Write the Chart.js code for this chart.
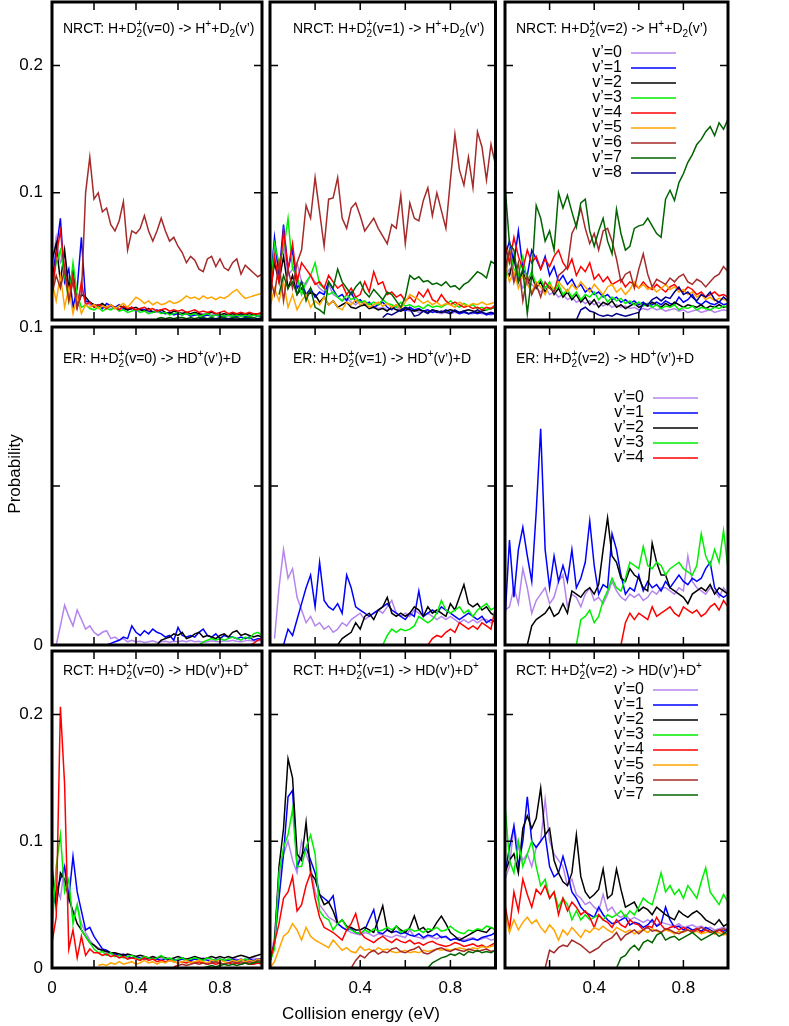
<!DOCTYPE html>
<html><head><meta charset="utf-8">
<script src="https://cdn.jsdelivr.net/npm/chart.js@4.4.1/dist/chart.umd.min.js"></script>
<style>
html,body{margin:0;padding:0;background:#fff;}
#wrap{position:relative;width:789px;height:1026px;overflow:hidden;background:#fff;}
#wrap canvas{position:absolute;left:0;top:0;}
</style></head><body><div id="wrap"></div>
<script>
const _ = null;
const UNIT = 0.001; // all series values below are in units of 0.001 (probability)
const energy = [0,0.02,0.04,0.06,0.08,0.1,0.12,0.14,0.16,0.18,0.2,0.22,0.24,0.26,0.28,0.3,0.32,0.34,0.36,0.38,0.4,0.42,0.44,0.46,0.48,0.5,0.52,0.54,0.56,0.58,0.6,0.62,0.64,0.66,0.68,0.7,0.72,0.74,0.76,0.78,0.8,0.82,0.84,0.86,0.88,0.9,0.92,0.94,0.96,0.98,1];
const seriesLabels = ["v’=0","v’=1","v’=2","v’=3","v’=4","v’=5","v’=6","v’=7","v’=8"];
const seriesColors = ["#b585ee","#0000ff","#000000","#00ee00","#ff0000","#ffa500","#a52a2a","#006400","#00008b"];

const titles = [
 "NRCT: H+D~2+(v=0) -> H^++D_2(v’)","NRCT: H+D~2+(v=1) -> H^++D_2(v’)","NRCT: H+D~2+(v=2) -> H^++D_2(v’)",
 "ER: H+D~2+(v=0) -> HD^+(v’)+D","ER: H+D~2+(v=1) -> HD^+(v’)+D","ER: H+D~2+(v=2) -> HD^+(v’)+D",
 "RCT: H+D~2+(v=0) -> HD(v’)+D^+","RCT: H+D~2+(v=1) -> HD(v’)+D^+","RCT: H+D~2+(v=2) -> HD(v’)+D^+"
];
const xTickMarks = [0.2,0.4,0.6,0.8];
const xLabelValsFirst = [0,0.4,0.8], xLabelTextFirst = ["0","0.4","0.8"];
const xLabelValsOther = [0.4,0.8], xLabelTextOther = ["0.4","0.8"];
const rowYMax = [0.25,0.1,0.25];
const rowYTickMarks = [[0.1,0.2],[0.05],[0.1,0.2]];
const rowYLabelVals = [[0.1,0.2],[0,0.1],[0,0.1,0.2]];
const rowYLabelText = [["0.1","0.2"],["0","0.1"],["0","0.1","0.2"]];
const yTitle = "Probability", xTitle = "Collision energy (eV)";

// ---- NRCT v=0 ----
const nrct0_v0 = [40,65,45,50,20,35,15,25,14,12, 11,12,10,11,9,10,9,8,9,8, 7,8,7,6,7,6,6,5,6,5, 5,6,5,4,5,4,5,4,4,5, 4,4,3,4,4,3,4,3,4,3, 4];
const nrct0_v1 = [30,55,80,30,40,10,25,65,15,14, 10,12,9,13,11,10,12,9,8,10, 7,9,8,7,6,8,6,5,6,4, 5,4,5,3,4,4,3,4,3,4, 3,3,4,3,3,4,3,3,4,3, 3];
const nrct0_v2 = [47,60,30,55,25,40,10,20,18,14, 12,11,13,10,12,9,11,10,8,9, 10,8,7,9,6,7,8,6,5,7, 6,5,6,5,6,5,4,5,6,5, 4,5,4,5,4,5,4,5,4,5, 5];
const nrct0_v3 = [25,45,55,35,15,45,20,10,12,9, 8,10,7,9,8,10,7,8,6,7, 8,6,7,5,6,7,5,6,4,5, 6,4,5,4,5,3,4,5,3,4, 4,3,4,3,4,3,4,3,4,3, 4];
const nrct0_v4 = [20,50,70,40,20,35,10,30,12,14, 10,12,11,9,12,10,8,11,9,10, 8,9,10,8,9,7,8,9,7,8, 7,8,6,7,8,6,7,6,7,5, 6,7,5,6,5,6,5,6,5,5, 6];
const nrct0_v5 = [30,15,35,10,25,5,18,5,12,10, 12,9,11,10,12,9,11,13,10,14, 18,16,13,15,12,14,12,13,15,13, 14,16,19,17,18,16,19,17,18,16, 18,17,19,22,24,20,17,18,19,20, 21];
const nrct0_v6 = [20,35,25,40,15,30,10,20,100,128, 95,100,85,88,75,70,78,93,55,70, 68,72,82,70,62,70,80,70,62,65, 58,53,45,50,47,40,38,48,50,42, 48,41,39,45,48,36,43,40,37,34, 36];
const nrct0_v7 = [_,_,_,_,_, _,_,_,_,_, _,_,_,_,_, _,_,_,_,_, _,_,_,_,_, 1,2,1,2,1,2,2,1,2,1, 2,2,1,2,1,2,2,1,2,2, 1,2,2,2,1,2];
const nrct0_v8 = [_,_,_,_,_, _,_,_,_,_, _,_,_,_,_, _,_,_,_,_, _,_,_,_,_, _,_,_,_,_, _,_,_,_,_, 1,1,0.5,1,1,0.5,1,1,1,0.5, 1,1,1,0.5,1,1];

// ---- NRCT v=1 ----
const nrct1_v0 = [30,55,40,60,35,40,45,30,28,35, 30,25,22,28,20,18,15,17,14,12, 15,12,10,11,9,10,8,9,10,7, 8,7,8,6,7,6,7,6,5,6, 5,6,5,6,5,5,6,5,5,4, 5];
const nrct1_v1 = [25,65,35,75,40,55,25,30,20,25, 18,22,20,30,24,18,20,15,22,14, 16,12,14,10,12,14,10,8,12,9, 7,10,8,9,7,8,6,7,6,8, 6,7,5,6,5,6,5,6,4,5, 5];
const nrct1_v2 = [20,45,30,50,25,35,20,25,18,22, 20,14,18,12,15,10,12,14,10,9, 11,12,9,10,8,9,7,10,8,7, 9,8,7,8,7,6,8,7,6,7, 8,7,6,7,8,7,6,7,8,9, 10];
const nrct1_v3 = [20,60,45,55,80,40,35,20,30,35, 45,28,25,20,22,18,15,20,16,18, 14,15,12,14,12,16,13,12,10,14, 11,12,10,11,9,12,10,11,10,12, 15,12,10,13,11,12,9,10,8,9, 10];
const nrct1_v4 = [15,50,30,70,40,60,30,45,40,35, 28,30,25,35,30,25,28,20,25,18, 20,30,22,38,28,30,20,22,18,20, 15,18,14,22,18,24,16,14,20,15, 12,14,12,10,11,9,10,8,10,9, 12];
const nrct1_v5 = [10,25,15,30,10,20,8,15,20,10, 15,12,18,12,15,10,8,14,12,16, 12,14,10,12,14,11,13,10,12,9, 14,20,18,16,13,15,12,14,11,13, 12,10,14,12,11,13,12,14,12,13, 14];
const nrct1_v6 = [34,20,45,15,40,25,45,55,90,80, 112,85,58,95,96,112,80,72,88,92, 82,70,75,80,72,66,60,75,72,98, 60,92,80,78,94,104,82,100,86,72, 110,146,118,106,128,104,148,136,110,138, 122];
const nrct1_v7 = [_,_,20,35,25,30,20,30,15,25, 10,8,5,30,25,40,30,25,20,26, 30,22,18,24,20,16,22,20,15,10, 18,35,32,34,30,31,28,29,27,30, 26,27,24,28,30,34,38,36,33,46, 44];
const nrct1_v8 = [_,_,_,_,_, _,_,_,_,_, _,_,_,_,_, _,_,_,_,_, _,_,_,_,_, 2,5,4,6,8, 10,9,3,4,7,5,8,6,7,6, 5,8,6,7,5,6,8,6,5,6, 5];

// ---- NRCT v=2 ----
const nrct2_v0 = [35,40,30,35,25,30,28,25,22,26, 20,22,18,20,16,18,14,16,13,15, 12,14,11,13,10,12,10,11,9,10, 8,9,8,10,8,9,7,8,9,7, 8,6,7,8,6,7,8,6,7,8, 7];
const nrct2_v1 = [50,62,45,70,40,35,55,48,40,50, 35,42,30,35,28,32,25,28,22,25, 20,22,18,20,16,18,14,16,13,15, 12,14,11,12,14,12,15,13,12,18, 14,16,20,14,12,15,13,12,14,12, 13];
const nrct2_v2 = [40,35,50,30,38,28,35,25,30,22, 28,20,25,18,22,16,20,14,18,12, 16,10,14,12,15,10,12,9,11,13, 10,12,11,14,12,10,13,11,14,12, 10,12,11,10,12,9,11,10,12,10, 11];
const nrct2_v3 = [30,55,40,35,50,30,38,28,32,25, 30,22,28,20,24,18,22,16,20,18, 22,16,20,14,18,15,17,13,15,12, 14,11,13,10,12,9,11,10,12,8, 10,9,11,8,10,9,8,10,9,11, 10];
const nrct2_v4 = [60,45,65,50,40,55,45,50,40,48, 42,50,55,45,40,48,35,42,38,45, 32,36,30,34,28,30,32,26,30,28, 25,30,26,24,28,25,22,26,28,24, 22,26,24,20,22,18,20,22,19,20, 18];
const nrct2_v5 = [45,30,38,25,35,28,22,30,26,20, 28,24,30,26,22,28,24,30,26,22, 28,24,20,26,28,22,25,20,24,30, 25,28,24,26,22,25,28,24,26,22, 24,20,22,18,20,16,18,15,17,16, 15];
const nrct2_v6 = [40,55,30,45,15,35,20,28,18,30, 25,22,35,38,42,68,75,88,72,60, 68,55,70,72,62,48,30,36,38,25, 40,52,36,26,32,30,28,33,30,34, 36,30,28,32,30,26,30,34,36,42, 38];
const nrct2_v7 = [106,60,55,30,40,5,35,90,80,62, 70,55,100,88,98,85,73,92,95,70, 58,70,80,62,52,87,68,55,58,72, 74,75,80,74,68,65,95,102,94,108, 115,124,130,138,142,148,152,145,155,150, 158];
const nrct2_v8 = [_,_,_,_,_, _,_,_,_,_, _,_,_,_,_, _, 0,8,10,7, 6,4,3,4,3,5,4,3,4,5, 6,13,12,16,18,15,18,17,22,26, 20,22,18,15,20,18,22,16,14,18, 15];

// ---- ER v=0 ----
const er0_v0 = [_,0,6,12.5,9,6,11,8,5,6, 4,3,4,4.5,2,2.5,1.5,2,1,1.5, 1,1.2,0.8,1,1.3,0.8,1,1.2,0.9,1.2, 1,1.3,1,1.5,1,1.2,0.8,1,1.3,1.1, 1,1.3,1.2,1.5,1.2,1,1.3,1.5,1.2,1.4, 1.3];
const er0_v1 = [_,_,_,_,_, _,_,_,_,_, _,_,_, 0,0.5,1,1.5,2.5,2,6, 4,3,4.5,3.5,5,4,3.5,2.5,3,1.5, 5.5,3,2.5,3,2.5,4,5,3,2.5,3.5, 2,3,2.5,2.5,2,2.5,2,2.5,1.5,2, 2];
const er0_v2 = [_,_,_,_,_, _,_,_,_,_, _,_,_,_,_, _,_,_,_,_, _,_,_,_,_, 0,1.5,2,2.5,3.5, 3,4,2,2.5,3.5,4,2.5,3,2.5,2, 3,3.5,2.5,4,4.5,3,3.5,3,2.5,3, 2.5];
const er0_v3 = [_,_,_,_,_, _,_,_,_,_, _,_,_,_,_, _,_,_,_,_, _,_,_,_,_, _,_,_,_,_, _,_,_,_,_, 0,1,1.5,2,1.5, 2,1.5,2,2.5,2,1.5,2.5,2,3.5,4, 3];
const er0_v4 = [_,_,_,_,_, _,_,_,_,_, _,_,_,_,_, _,_,_,_,_, _,_,_,_,_, _,_,_,_,_, _,_,_,_,_, _,_,_,_,_, _,_,_,_,_, _,_, 0,0.5,1.5,2];

// ---- ER v=1 ----
const er1_v0 = [_,2,18,30,21,24,15,11,7,9, 6,7,5,6,4,5,7,6,8,9, 10,8,9,10,11,10,12,14,10,9, 10,9,11,10,9,10,9,8,9,8, 9,8,7,8,7,8,7,8,8,7, 8];
const er1_v1 = [_,_,_,0,5,3,8,13,18,22, 12,26,14,12,11,13,10,22,18,12, 11,10,9,10,11,12,13,11,10,9, 8,10,9,17,9,10,11,10,12,11, 10,9,8,9,10,9,8,9,7,8, 7];
const er1_v2 = [_,_,_,_,_, _,_,_,_,_, _,_,_,_,_, 0,2,3,4,7, 5,9,10,8,11,12,15,10,9,10, 9,10,12,11,9,12,10,11,10,9, 13,11,15,19,13,12,13,11,12,10, 9];
const er1_v3 = [_,_,_,_,_, _,_,_,_,_, _,_,_,_,_, _,_,_,_,_, _,_,_,_,_, 0,3,5,4,5, 4.5,5,6,9,8,7,8,10,14,11, 10,11,12,10,11,9,11,12,13,11, 12];
const er1_v4 = [_,_,_,_,_, _,_,_,_,_, _,_,_,_,_, _,_,_,_,_, _,_,_,_,_, _,_,_,_,_, _,_,_,_,_, 0,2,3,2.5,4, 5,4,7,6,5,6,5,7,6,5, 12];

// ---- ER v=2 ----
const er2_v0 = [11,12,18,13,24,18,10,14,16,18, 13,15,20,22,12,16,15,12,16,18, 14,15,13,16,20,17,15,14,16,15, 16,14,15,17,16,18,18,17,16,18, 17,28,20,18,17,16,18,17,15,18, 16];
const er2_v1 = [8,33,15,30,37,28,20,42,68,30, 18,28,20,25,20,30,18,21,26,39, 25,16,19,18,35,30,22,16,18,17, 22,17,20,18,19,17,20,18,20,22, 20,19,21,20,21,24,26,18,16,15, 16];
const er2_v2 = [_,_,_,_,_,0,6,8,9,10, 12,9,10,13,10,17,16,15,17,18, 16,19,30,40,28,26,21,20,24,22, 21,18,17,32,26,22,22,18,17,16, 15,13,16,17,18,17,19,16,18,17, 16];
const er2_v3 = [_,_,_,_,_, _,_,_,_,_, _,_,_,_,_, _, 0,8,9,11, 7,9,14,17,21,18,17,21,26,25, 24,31,25,24,26,25,22,24,25,26, 24,23,22,25,35,28,25,30,26,36, 24];
const er2_v4 = [_,_,_,_,_, _,_,_,_,_, _,_,_,_,_, _,_,_,_,_, _,_,_,_,_, _, 0,7,10,8, 10,9,8,12,9,10,11,12,10,9, 12,11,10,11,9,10,12,13,11,14, 12];

// ---- RCT v=0 ----
const rct0_v0 = [50,65,55,80,60,40,50,35,28,22, 18,16,14,12,11,10,9,10,9,8, 8,7,8,7,8,7,7,8,7,6, 7,8,7,6,7,7,8,7,6,7, 7,6,7,8,7,6,7,7,8,7, 7];
const rct0_v1 = [45,60,70,80,55,88,60,45,30,32, 25,20,15,14,12,11,10,11,9,8, 9,8,7,8,7,7,6,7,6,7, 6,7,6,6,7,6,7,6,5,6, 7,6,6,7,6,7,6,7,6,7, 7];
const rct0_v2 = [80,48,75,70,55,45,35,30,25,20, 18,15,14,13,12,12,11,10,11,10, 9,10,9,8,9,8,9,8,7,8, 9,8,7,8,9,8,7,8,9,8, 9,8,9,8,9,10,9,8,9,10, 11];
const rct0_v3 = [30,80,105,60,70,35,50,30,25,20, 15,12,13,10,12,9,10,8,9,10, 8,7,9,8,7,8,10,7,8,6, 7,8,6,7,8,7,6,8,7,6, 7,6,7,6,5,6,7,6,5,6, 6];
const rct0_v4 = [20,40,206,145,15,30,8,25,10,15, 12,12,10,11,9,10,8,9,7,8, 7,6,8,6,7,5,6,5,6,5, 4,5,4,5,4,5,4,3,4,3, 4,3,4,3,4,3,4,3,3,4, 3];
const rct0_v5 = [_,_,_,_,_, _,_,_,_,_, _, 2,3,2,4,3,5,3,4,5, 3,4,6,4,5,3,5,4,6,5, 4,5,6,4,5,6,5,4,6,5, 6,5,4,6,5,7,5,6,5,7, 6];
const rct0_v6 = [_,_,_,_,_, _,_,_,_,_, _,_,_,_,_, _,_,_,_,_, _,_,_,_,_, _,_,_,_, 1, 2,3,2,3,4,3,4,3,4,5, 4,3,4,5,4,5,4,5,4,6, 5];
const rct0_v7 = [_,_,_,_,_, _,_,_,_,_, _,_,_,_,_, _,_,_,_,_, _,_,_,_,_, _,_,_,_,_, _,_,_,_,_, _, 0,1,2,1, 2,3,2,3,2,3,4,3,4,5, 4];

// ---- RCT v=1 ----
const rct1_v0 = [5,25,70,90,100,85,75,100,90,80, 60,50,45,40,38,35,32,30,28,27, 26,28,27,25,27,26,25,24,26,25, 24,30,25,24,23,25,24,23,25,24, 22,23,24,22,23,24,22,23,24,22, 23];
const rct1_v1 = [5,20,55,90,135,140,80,88,95,85, 75,58,55,52,57,35,32,30,31,28, 27,30,38,46,28,27,30,28,29,27, 28,26,25,27,24,26,25,27,24,25, 22,23,22,21,22,23,22,24,25,26, 28];
const rct1_v2 = [5,20,80,110,165,150,90,85,115,75, 70,58,50,52,45,35,38,33,32,30, 30,32,30,28,38,49,30,28,33,30, 28,32,41,30,32,28,30,36,41,35, 28,25,22,24,26,28,30,29,28,32, 30];
const rct1_v3 = [5,15,75,95,105,125,80,80,95,105, 90,45,40,38,30,35,38,32,30,28, 27,30,28,31,29,30,32,30,33,28, 30,31,29,30,28,31,30,32,29,30, 33,30,28,27,30,29,31,30,33,32, 30];
const rct1_v4 = [5,20,35,55,60,72,45,50,65,75, 55,40,32,30,28,25,22,30,35,43, 28,24,22,20,23,25,22,20,23,21, 20,22,19,20,18,20,21,19,18,17, 18,20,19,17,18,19,17,18,16,18, 20];
const rct1_v5 = [0,5,15,25,28,35,30,22,32,25, 22,20,18,16,22,18,14,16,13,12, 17,14,15,13,16,14,15,13,12,13, 14,12,13,12,14,13,14,15,14,15, 14,15,16,15,14,16,15,17,16,17, 18];
const rct1_v6 = [_,_,_,_,_, _,_,_,_,_, _,_,_,_,_, _,_,_, 0,6, 10,8,12,14,11,13,12,15,16,13, 12,14,15,17,12,11,13,15,16,14, 13,15,14,13,15,14,13,14,15,13, 14];
const rct1_v7 = [_,_,_,_,_, _,_,_,_,_, _,_,_,_,_, _,_,_,_,_, _,_,_,_,_, _,_,_,_,_, _,_,_,_,_, 0,4,6,8,9, 11,10,12,10,13,12,14,12,13,12, 14];

// ---- RCT v=2 ----
const rct2_v0 = [70,80,112,95,85,90,80,95,100,133, 100,90,85,80,65,70,58,55,50,52, 48,45,58,45,48,42,40,42,38,40, 38,36,38,36,34,36,35,34,33,35, 32,33,34,32,33,31,32,30,31,32, 30];
const rct2_v1 = [75,95,112,80,100,135,100,95,100,105, 80,72,75,88,75,60,55,48,44,42, 40,48,42,38,35,36,38,40,34,36, 35,32,34,38,33,35,48,38,32,33, 30,32,30,31,29,32,30,28,30,29, 31];
const rct2_v2 = [75,85,90,75,110,120,110,118,142,105, 110,85,75,68,65,75,105,72,60,55, 58,62,78,55,58,78,62,48,50,52, 45,48,46,42,48,45,42,40,38,45, 42,40,43,45,42,38,36,34,38,33, 35];
const rct2_v3 = [129,85,75,100,80,90,100,80,65,70, 55,60,48,55,50,38,45,38,42,38, 40,42,38,42,40,42,45,40,45,42, 48,55,52,50,62,75,60,65,58,62, 55,65,60,55,68,79,60,55,50,58, 52];
const rct2_v4 = [50,30,60,45,70,58,48,62,58,65, 55,60,42,55,45,52,48,42,45,40, 32,42,38,36,32,38,34,32,38,35, 34,30,33,32,40,34,30,32,33,30, 32,30,29,31,28,30,29,27,30,28, 26];
const rct2_v5 = [43,28,38,30,36,40,35,38,32,28, 34,30,22,30,26,32,28,24,30,28, 32,30,33,30,28,32,30,28,30,27, 29,30,28,31,29,28,30,29,27,29, 28,30,28,29,27,28,29,27,28,26, 27];
const rct2_v6 = [_,_,_,_,_, _,_,_,_, 0, 14,12,16,18,17,22,20,18,15,12, 14,16,20,22,24,28,22,26,28,30, 27,30,32,29,30,28,31,30,28,27, 29,30,28,30,32,30,28,29,30,31, 29];
const rct2_v7 = [_,_,_,_,_, _,_,_,_,_, _,_,_,_,_, _,_,_,_,_, _,_,_,_,_, 0,8,10,15,18, 14,20,22,20,26,28,22,24,25,22, 24,26,28,25,22,24,26,28,25,27, 30];

// ---- layout (positions only) ----
const colBounds = [[52,262],[270,495.5],[505,728]];
const rowBounds = [[2,320],[327,645],[651,968]];
const titleX = [63,293,516], titleBaseY = [33,363,675];
const FONT = '"Liberation Sans", Arial, Helvetica, sans-serif';

const panels = [
 {series:[nrct0_v0,nrct0_v1,nrct0_v2,nrct0_v3,nrct0_v4,nrct0_v5,nrct0_v6,nrct0_v7,nrct0_v8]},
 {series:[nrct1_v0,nrct1_v1,nrct1_v2,nrct1_v3,nrct1_v4,nrct1_v5,nrct1_v6,nrct1_v7,nrct1_v8]},
 {series:[nrct2_v0,nrct2_v1,nrct2_v2,nrct2_v3,nrct2_v4,nrct2_v5,nrct2_v6,nrct2_v7,nrct2_v8], legend:{textRight:622,x0:631,x1:676,y0:53,dy:15}},
 {series:[er0_v0,er0_v1,er0_v2,er0_v3,er0_v4], axisTitles:true},
 {series:[er1_v0,er1_v1,er1_v2,er1_v3,er1_v4]},
 {series:[er2_v0,er2_v1,er2_v2,er2_v3,er2_v4], legend:{textRight:644,x0:653,x1:698,y0:398,dy:15}},
 {series:[rct0_v0,rct0_v1,rct0_v2,rct0_v3,rct0_v4,rct0_v5,rct0_v6,rct0_v7]},
 {series:[rct1_v0,rct1_v1,rct1_v2,rct1_v3,rct1_v4,rct1_v5,rct1_v6,rct1_v7]},
 {series:[rct2_v0,rct2_v1,rct2_v2,rct2_v3,rct2_v4,rct2_v5,rct2_v6,rct2_v7], legend:{textRight:644,x0:653,x1:698,y0:690,dy:15}}
];

function drawRich(ctx, str, x, y, size) {
  const base = size + 'px ' + FONT, small = Math.round(size*0.72) + 'px ' + FONT;
  ctx.textAlign = 'left'; ctx.textBaseline = 'alphabetic';
  let buf = '', i = 0;
  const flush = () => { if (buf) { ctx.font = base; ctx.fillText(buf, x, y); x += ctx.measureText(buf).width; buf = ''; } };
  while (i < str.length) {
    const c = str[i];
    if (c === '_') { flush(); ctx.font = small; ctx.fillText(str[i+1], x, y + 4); x += ctx.measureText(str[i+1]).width; i += 2; }
    else if (c === '^') { flush(); ctx.font = small; ctx.fillText(str[i+1], x, y - 6); x += ctx.measureText(str[i+1]).width; i += 2; }
    else if (c === '~') { flush(); ctx.font = small; ctx.fillText(str[i+1], x, y + 4); ctx.fillText(str[i+2], x, y - 6);
      x += Math.max(ctx.measureText(str[i+1]).width, ctx.measureText(str[i+2]).width); i += 3; }
    else { buf += c; i++; }
  }
  flush();
}

const deco = {
  id: 'deco',
  afterDatasetsDraw(chart, args, o) {
    const ctx = chart.ctx, a = chart.chartArea, xs = chart.scales.x, ys = chart.scales.y;
    ctx.save();
    ctx.strokeStyle = '#000'; ctx.lineWidth = 1.5; ctx.beginPath();
    for (const v of xTickMarks) { const p = xs.getPixelForValue(v);
      ctx.moveTo(p, a.bottom); ctx.lineTo(p, a.bottom - 8); ctx.moveTo(p, a.top); ctx.lineTo(p, a.top + 8); }
    for (const v of rowYTickMarks[o.row]) { const p = ys.getPixelForValue(v);
      ctx.moveTo(a.left, p); ctx.lineTo(a.left + 8, p); ctx.moveTo(a.right, p); ctx.lineTo(a.right - 8, p); }
    ctx.stroke();
    ctx.lineWidth = 3; ctx.strokeRect(a.left, a.top, a.right - a.left, a.bottom - a.top);
    ctx.fillStyle = '#000';
    ctx.font = '17px ' + FONT;
    if (o.col === 0) {
      ctx.textAlign = 'right'; ctx.textBaseline = 'middle';
      rowYLabelVals[o.row].forEach((v, i) => ctx.fillText(rowYLabelText[o.row][i], a.left - 9, ys.getPixelForValue(v)));
    }
    if (o.row === 2) {
      ctx.textAlign = 'center'; ctx.textBaseline = 'middle';
      const vals = o.col === 0 ? xLabelValsFirst : xLabelValsOther, txt = o.col === 0 ? xLabelTextFirst : xLabelTextOther;
      vals.forEach((v, i) => ctx.fillText(txt[i], xs.getPixelForValue(v), a.bottom + 20));
    }
    drawRich(ctx, o.title, titleX[o.col], titleBaseY[o.row], 14);
    if (o.legend) {
      const L = o.legend;
      ctx.font = '16px ' + FONT;
      o.labels.forEach((t, i) => {
        const y = L.y0 + i * L.dy;
        ctx.fillStyle = '#000'; ctx.textAlign = 'right'; ctx.textBaseline = 'middle';
        ctx.fillText(t, L.textRight, y);
        ctx.strokeStyle = o.colors[i]; ctx.lineWidth = 1.5;
        ctx.beginPath(); ctx.moveTo(L.x0, y); ctx.lineTo(L.x1, y); ctx.stroke();
      });
    }
    if (o.axisTitles) {
      ctx.fillStyle = '#000'; ctx.font = '17px ' + FONT; ctx.textAlign = 'center'; ctx.textBaseline = 'middle';
      ctx.save(); ctx.translate(15, 474); ctx.rotate(-Math.PI / 2); ctx.fillText(yTitle, 0, 0); ctx.restore();
      ctx.fillText(xTitle, 361, 1014);
    }
    ctx.restore();
  }
};

const wrap = document.getElementById('wrap');
panels.forEach((p, idx) => {
  const row = Math.floor(idx / 3), col = idx % 3;
  const cv = document.createElement('canvas');
  cv.width = 789; cv.height = 1026; cv.style.width = '789px'; cv.style.height = '1026px';
  wrap.appendChild(cv);
  const datasets = p.series.map((arr, k) => ({
    label: seriesLabels[k],
    data: energy.map((e, i) => ({x: e, y: arr[i] === null ? null : arr[i] * UNIT})),
    borderColor: seriesColors[k], backgroundColor: seriesColors[k],
    borderWidth: 1.5, pointRadius: 0, fill: false, tension: 0, order: 20 - k
  }));
  new Chart(cv, {
    type: 'line',
    data: { datasets },
    plugins: [deco],
    options: {
      responsive: false, animation: false, devicePixelRatio: 1, events: [],
      layout: { padding: { left: colBounds[col][0], right: 789 - colBounds[col][1], top: rowBounds[row][0], bottom: 1026 - rowBounds[row][1] } },
      scales: {
        x: { type: 'linear', min: 0, max: 1, display: false },
        y: { type: 'linear', min: 0, max: rowYMax[row], display: false }
      },
      plugins: {
        legend: { display: false }, tooltip: { enabled: false },
        deco: { row, col, title: titles[idx], legend: p.legend || null, axisTitles: !!p.axisTitles,
                labels: seriesLabels.slice(0, p.series.length), colors: seriesColors.slice(0, p.series.length) }
      }
    }
  });
});
</script></body></html>
